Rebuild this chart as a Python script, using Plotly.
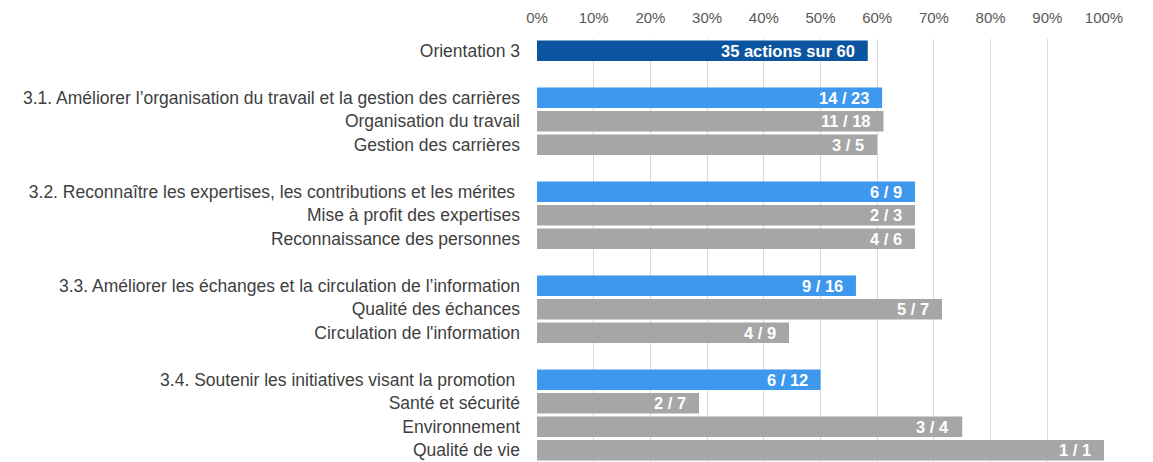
import plotly.graph_objects as go

labels = [
    "Orientation 3",
    "",
    "3.1. Améliorer l’organisation du travail et la gestion des carrières",
    "Organisation du travail",
    "Gestion des carrières",
    "",
    "3.2. Reconnaître les expertises, les contributions et les mérites ",
    "Mise à profit des expertises",
    "Reconnaissance des personnes",
    "",
    "3.3. Améliorer les échanges et la circulation de l’information",
    "Qualité des échances",
    "Circulation de l'information",
    "",
    "3.4. Soutenir les initiatives visant la promotion ",
    "Santé et sécurité",
    "Environnement",
    "Qualité de vie",
]
done = [35, None, 14, 11, 3, None, 6, 2, 4, None, 9, 5, 4, None, 6, 2, 3, 1]
total = [60, None, 23, 18, 5, None, 9, 3, 6, None, 16, 7, 9, None, 12, 7, 4, 1]
kind = ["main", None, "group", "sub", "sub", None, "group", "sub", "sub", None,
        "group", "sub", "sub", None, "group", "sub", "sub", "sub"]
bar_texts = ["35 actions sur 60", None, "14 / 23", "11 / 18", "3 / 5", None, "6 / 9", "2 / 3", "4 / 6",
             None, "9 / 16", "5 / 7", "4 / 9", None, "6 / 12", "2 / 7", "3 / 4", "1 / 1"]
tick_vals = [0, 0.1, 0.2, 0.3, 0.4, 0.5, 0.6, 0.7, 0.8, 0.9, 1.0]
tick_text = ["0%", "10%", "20%", "30%", "40%", "50%", "60%", "70%", "80%", "90%", "100%"]

colors = {"main": "#0b55a0", "group": "#3d98ee", "sub": "#a6a6a6"}
FONT = "Liberation Sans, Arial, sans-serif"

ys, xs, cols, txts = [], [], [], []
for i, (d, t, k, tx) in enumerate(zip(done, total, kind, bar_texts)):
    if d is None:
        continue
    ys.append(i)
    xs.append(d / t)
    cols.append(colors[k])
    txts.append(tx)

fig = go.Figure()
fig.add_trace(go.Bar(
    y=ys, x=xs, orientation="h",
    marker=dict(color=cols, line=dict(width=0)),
    width=0.88, hoverinfo="skip",
))
for y, x, tx in zip(ys, xs, txts):
    fig.add_annotation(x=x, y=y, text="<b>" + tx + "</b>", showarrow=False,
                       xanchor="right", yanchor="middle", xshift=-11,
                       font=dict(family=FONT, size=16.5, color="white"))

fig.update_layout(
    width=1153, height=462,
    margin=dict(l=537, r=49, t=39, b=0),
    paper_bgcolor="white", plot_bgcolor="white",
    showlegend=False,
    font=dict(family=FONT, size=17.5, color="#404040"),
)
fig.update_xaxes(
    side="top", range=[0, 1.0], tickvals=tick_vals, ticktext=tick_text,
    showgrid=True, gridcolor="#d9d9d9", gridwidth=1, zeroline=False,
    tickfont=dict(family=FONT, size=15, color="#595959"), ticks="",
    showline=False, fixedrange=True, ticklabelstandoff=12,
)
fig.update_yaxes(
    range=[len(labels) - 0.5, -0.5], tickvals=list(range(len(labels))), ticktext=labels,
    showgrid=False, zeroline=False, ticks="", showline=False,
    tickfont=dict(family=FONT, size=17.5, color="#404040"), ticklabelstandoff=16,
)
fig.write_html("out.html", post_script="document.body.style.margin='0';",
               config={"displayModeBar": False})
